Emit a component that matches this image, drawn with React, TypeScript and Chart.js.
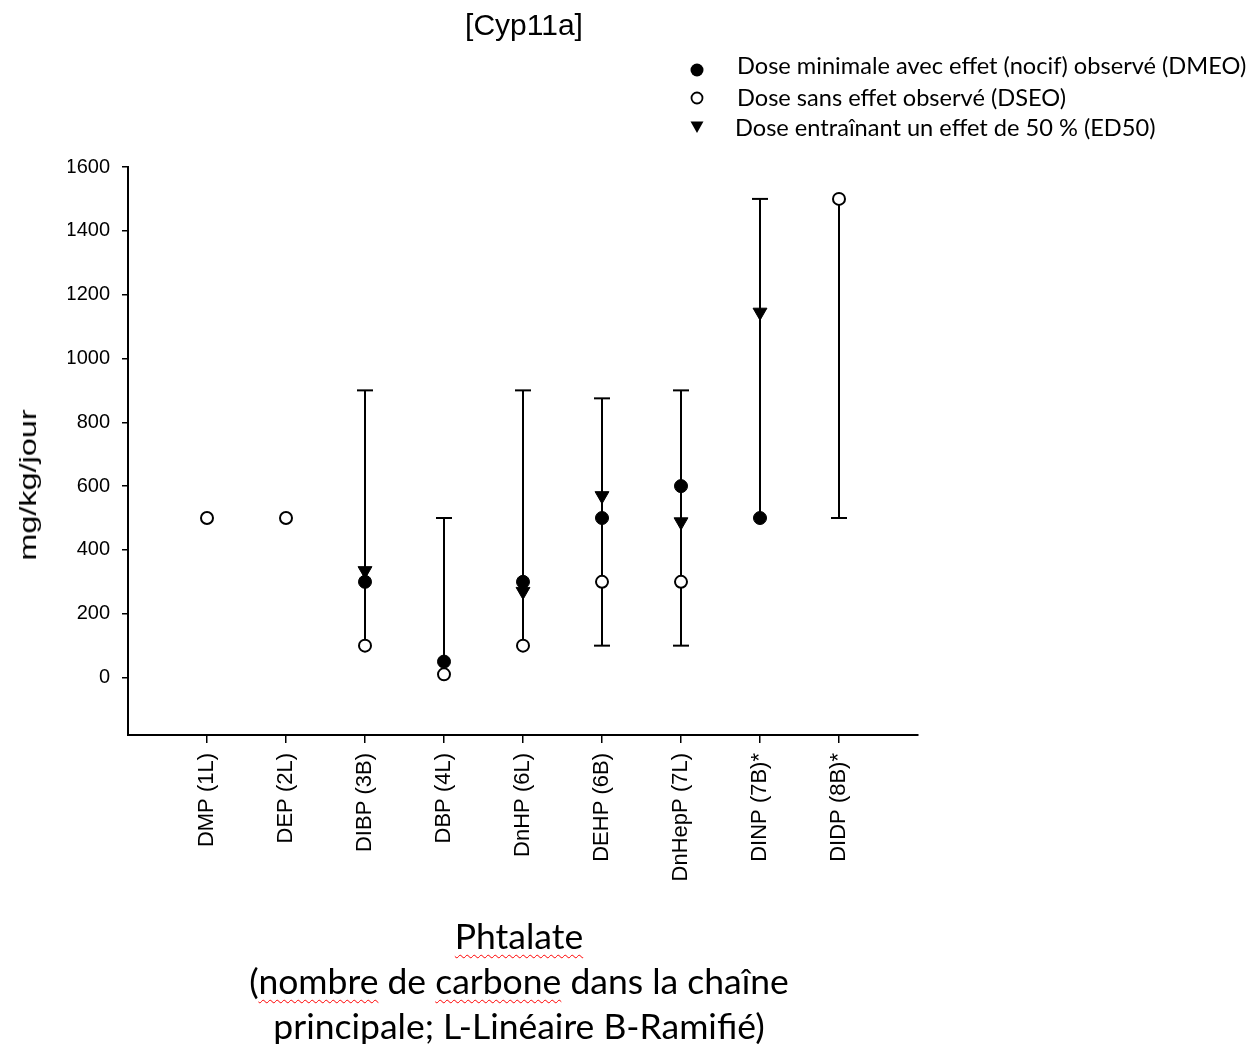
import React, { useEffect, useRef } from "react";
import { Chart, registerables } from "chart.js";

Chart.register(...registerables);

// ---- Data ----
const categories = [
  "DMP (1L)",
  "DEP (2L)",
  "DIBP (3B)",
  "DBP (4L)",
  "DnHP (6L)",
  "DEHP (6B)",
  "DnHepP (7L)",
  "DINP (7B)*",
  "DIDP (8B)*",
];
// Dose minimale avec effet (nocif) observé (DMEO)
const dmeo: (number | null)[] = [null, null, 300, 50, 300, 500, 600, 500, null];
// Dose sans effet observé (DSEO)
const dseo: (number | null)[] = [500, 500, 100, 10, 100, 300, 300, null, 1500];
// Dose entraînant un effet de 50 % (ED50)
const ed50: (number | null)[] = [null, null, 335, null, 270, 570, 488, 1145, null];
// Range bars
const rangeLow: (number | null)[] = [null, null, 100, 10, 100, 100, 100, 500, 500];
const rangeHigh: (number | null)[] = [null, null, 900, 500, 900, 875, 900, 1500, 1500];

const yTicks = [0, 200, 400, 600, 800, 1000, 1200, 1400, 1600];
const yMin = -180;
const yMax = 1600;

const legendLabels = [
  "Dose minimale avec effet (nocif) observé (DMEO)",
  "Dose sans effet observé (DSEO)",
  "Dose entraînant un effet de 50 % (ED50)",
];

const ARIAL = "'Liberation Sans', Arial, sans-serif";
const CALIBRI = "Lato, 'Open Sans', sans-serif";

function toPoints(arr: (number | null)[]) {
  const pts: { x: number; y: number }[] = [];
  arr.forEach((v, i) => {
    if (v !== null) pts.push({ x: i + 1, y: v });
  });
  return pts;
}

function buildWhiskers() {
  const pts: { x: number; y: number | null }[] = [];
  categories.forEach((_, i) => {
    const lo = rangeLow[i];
    const hi = rangeHigh[i];
    if (lo !== null && hi !== null) {
      pts.push({ x: i + 1, y: lo });
      pts.push({ x: i + 1, y: hi });
      pts.push({ x: i + 1, y: null });
    }
  });
  return pts;
}

function buildCaps() {
  const pts: { x: number; y: number }[] = [];
  categories.forEach((_, i) => {
    const marks = [dmeo[i], dseo[i], ed50[i]].filter((v) => v !== null);
    [rangeLow[i], rangeHigh[i]].forEach((v) => {
      if (v !== null && !marks.includes(v)) pts.push({ x: i + 1, y: v });
    });
  });
  return pts;
}

const wavy: React.CSSProperties = {
  textDecoration: "underline wavy red",
  textDecorationThickness: 1,
  textUnderlineOffset: 5,
};

export default function App() {
  const canvasRef = useRef<HTMLCanvasElement | null>(null);

  useEffect(() => {
    if (!canvasRef.current) return;
    const chart = new Chart(canvasRef.current, {
      type: "scatter",
      data: {
        datasets: [
          {
            label: "DSEO",
            data: toPoints(dseo),
            pointStyle: "circle",
            pointRadius: 6,
            pointBorderWidth: 2,
            pointBackgroundColor: "#ffffff",
            pointBorderColor: "#000000",
            order: 1,
          },
          {
            label: "DMEO",
            data: toPoints(dmeo),
            pointStyle: "circle",
            pointRadius: 6.5,
            pointBorderWidth: 1,
            pointBackgroundColor: "#000000",
            pointBorderColor: "#000000",
            order: 2,
          },
          {
            label: "ED50",
            data: toPoints(ed50),
            pointStyle: "triangle",
            pointRotation: 180,
            pointRadius: 8,
            pointBorderWidth: 1,
            pointBackgroundColor: "#000000",
            pointBorderColor: "#000000",
            order: 3,
          },
          {
            label: "caps",
            data: buildCaps(),
            pointStyle: "line",
            pointRadius: 8,
            pointBorderWidth: 2,
            pointBorderColor: "#000000",
            order: 4,
          },
          {
            label: "range",
            type: "line",
            data: buildWhiskers() as any,
            showLine: true,
            spanGaps: false,
            borderColor: "#000000",
            borderWidth: 2,
            pointRadius: 0,
            order: 5,
          } as any,
        ],
      },
      options: {
        responsive: false,
        animation: false,
        devicePixelRatio: 1,
        layout: { padding: { left: 68, top: 167, right: 337, bottom: 149 } },
        plugins: {
          legend: { display: false },
          tooltip: { enabled: false },
          title: { display: false },
        },
        scales: {
          x: {
            type: "linear",
            min: 0,
            max: 10,
            afterBuildTicks: (scale: any) => {
              scale.ticks = categories.map((_, i) => ({ value: i + 1 }));
            },
            afterFit: (scale: any) => {
              scale.height = 160;
            },
            ticks: {
              autoSkip: false,
              minRotation: 90,
              maxRotation: 90,
              padding: 10,
              color: "#000000",
              font: { family: ARIAL, size: 22 },
              callback: (v: any) => categories[Number(v) - 1] ?? "",
            },
            grid: {
              display: true,
              drawOnChartArea: false,
              drawTicks: true,
              tickLength: 8,
              color: "#000000",
              lineWidth: 1.5,
            },
            border: { display: true, color: "#000000", width: 2 },
          },
          y: {
            type: "linear",
            min: yMin,
            max: yMax,
            afterBuildTicks: (scale: any) => {
              scale.ticks = yTicks.map((v) => ({ value: v }));
            },
            afterFit: (scale: any) => {
              scale.width = 60;
            },
            ticks: {
              padding: 12,
              color: "#000000",
              font: { family: ARIAL, size: 20 },
              callback: (v: any) => String(v),
            },
            grid: {
              display: true,
              drawOnChartArea: false,
              drawTicks: true,
              tickLength: 6,
              color: "#000000",
              lineWidth: 1.5,
            },
            border: { display: true, color: "#000000", width: 2 },
          },
        },
      },
    });
    return () => chart.destroy();
  }, []);

  const markerBox: React.CSSProperties = {
    position: "absolute",
    left: 689,
    width: 16,
    height: 16,
  };

  return (
    <div
      style={{
        position: "absolute",
        left: 0,
        top: 0,
        width: 1255,
        height: 1044,
        background: "#ffffff",
        overflow: "hidden",
      }}
    >
      <canvas
        ref={canvasRef}
        width={1255}
        height={1044}
        style={{ position: "absolute", left: 0, top: 0, width: 1255, height: 1044 }}
      />
      {/* Title */}
      <div
        style={{
          position: "absolute",
          left: 524,
          top: 25,
          transform: "translate(-50%, -50%)",
          fontFamily: ARIAL,
          fontSize: 30,
          color: "#000",
          whiteSpace: "nowrap",
        }}
      >
        [Cyp11a]
      </div>
      {/* Legend */}
      <svg style={{ ...markerBox, top: 62 }} viewBox="0 0 16 16">
        <circle cx="8" cy="8" r="6.5" fill="#000" />
      </svg>
      <svg style={{ ...markerBox, top: 90 }} viewBox="0 0 16 16">
        <circle cx="8" cy="8" r="5.5" fill="#fff" stroke="#000" strokeWidth="1.8" />
      </svg>
      <svg style={{ ...markerBox, top: 119 }} viewBox="0 0 16 16">
        <polygon points="1.5,2.5 14.5,2.5 8,14" fill="#000" />
      </svg>
      {legendLabels.map((t, i) => (
        <div
          key={t}
          style={{
            position: "absolute",
            left: i === 2 ? 735 : 737,
            top: [66, 98, 128][i],
            transform: "translateY(-50%)",
            fontFamily: CALIBRI,
            fontSize: 23.6,
            color: "#000",
            whiteSpace: "nowrap",
            lineHeight: 1,
          }}
        >
          {t}
        </div>
      ))}
      {/* Y axis title */}
      <div
        style={{
          position: "absolute",
          left: 28,
          top: 485,
          transform: "translate(-50%, -50%) rotate(-90deg) scaleX(1.35)",
          fontFamily: ARIAL,
          fontSize: 24,
          color: "#000",
          whiteSpace: "nowrap",
          lineHeight: 1,
        }}
      >
        mg/kg/jour
      </div>
      {/* X axis title */}
      <div
        style={{
          position: "absolute",
          left: 519,
          top: 913,
          transform: "translateX(-50%)",
          fontFamily: CALIBRI,
          fontSize: 35.5,
          color: "#000",
          whiteSpace: "nowrap",
          textAlign: "center",
          lineHeight: "45px",
        }}
      >
        <div>
          <span style={wavy}>Phtalate</span>
        </div>
        <div>
          (<span style={wavy}>nombre</span> de <span style={wavy}>carbone</span> dans la chaîne
        </div>
        <div>principale; L-Linéaire B-Ramifié)</div>
      </div>
    </div>
  );
}
